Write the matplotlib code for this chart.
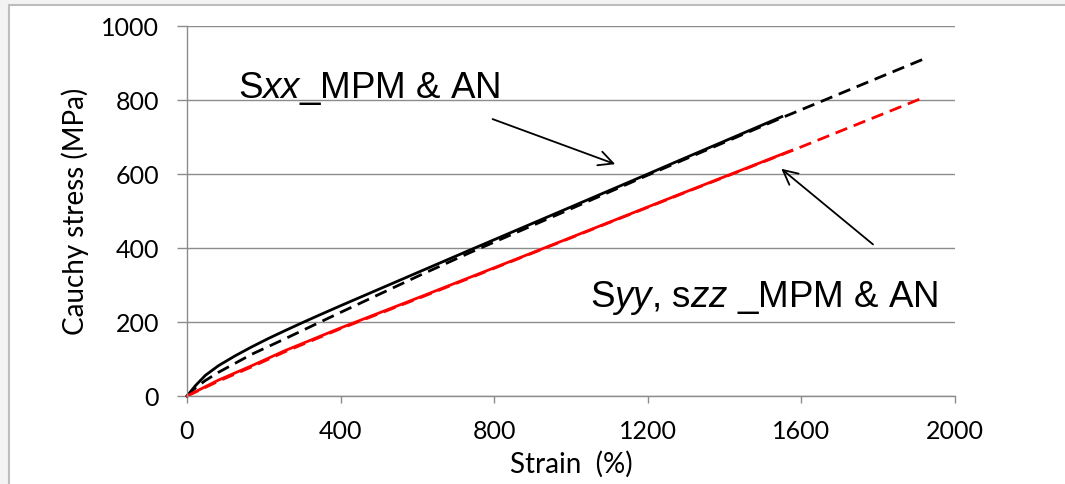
import matplotlib
matplotlib.use('Agg')
from matplotlib import pyplot as plt
from matplotlib.patches import Rectangle

# Sxx from the MPM run (solid) and the analytical solution (dashed)
sxx_mpm_strain = [0, 22, 48, 82, 126, 169, 213, 256, 300, 343, 400, 608,
                  738, 1000, 1198, 1285, 1549]
sxx_mpm_stress = [0, 28, 56, 82, 109, 133, 156, 177, 198, 218, 244, 337,
                  395, 511, 599, 638, 755]
sxx_an_strain = [0, 22, 48, 82, 169, 256, 343, 400, 608, 738, 1000, 1198,
                 1549, 1926]
sxx_an_stress = [0, 22, 42, 64, 113, 155, 198, 226, 327, 388, 506, 596,
                 752, 914]

# Syy / Szz
syy_mpm_strain = [0, 82, 169, 256, 400, 608, 933, 1285, 1575]
syy_mpm_stress = [0, 43, 82, 123, 184, 268, 401, 546, 664]
syy_an_strain = [0, 82, 169, 256, 400, 608, 933, 1285, 1575, 1924]
syy_an_stress = [0, 40, 79, 120, 182, 266, 400, 545, 663, 809]

x_ticks = [0, 400, 800, 1200, 1600, 2000]
y_ticks = [0, 200, 400, 600, 800, 1000]

plt.rcParams['mathtext.fontset'] = 'custom'
plt.rcParams['mathtext.rm'] = 'Liberation Sans'
plt.rcParams['mathtext.it'] = 'Liberation Sans:italic'

fig = plt.figure(figsize=(10.65, 4.84), dpi=100)
fig.patch.set_facecolor('#f3f3f3')
fig.patches.append(Rectangle(
    (9 / 1065, -0.01), 1.1, 1 - 5 / 484 + 0.01,
    transform=fig.transFigure, facecolor='white', edgecolor='#bdbdbd',
    linewidth=1.5, zorder=-5))

ax = fig.add_axes([187 / 1065, 1 - 396 / 484, 768 / 1065, 370 / 484])
ax.set_facecolor('none')
ax.set_zorder(2)

grid = '#8c8c8c'
ax.set_xlim(0, 2000)
ax.set_ylim(0, 1000)
ax.set_xticks(x_ticks)
ax.set_yticks(y_ticks)
ax.yaxis.grid(True, color=grid, linewidth=1.0)
ax.set_axisbelow(True)
for side in ('top', 'right'):
    ax.spines[side].set_visible(False)
for side in ('left', 'bottom'):
    ax.spines[side].set_color(grid)
    ax.spines[side].set_linewidth(1.0)
ax.tick_params(axis='y', direction='out', length=7, color=grid, width=1.0,
               labelsize=18, pad=13)
ax.tick_params(axis='x', direction='out', length=5, color=grid, width=1.0,
               labelsize=18, pad=12)
for lab in ax.get_xticklabels() + ax.get_yticklabels():
    lab.set_family('Lato')

ax.set_xlabel('Strain  (%)', family='Lato', fontsize=20, labelpad=6)
ax.set_ylabel('Cauchy stress (MPa)', family='Lato', fontsize=20, labelpad=9)

dash = (0, (4.5, 2.5))
ax.plot(sxx_an_strain, sxx_an_stress, color='black', lw=2.0, linestyle=dash,
        clip_on=False)
ax.plot(syy_an_strain, syy_an_stress, color='#ff0000', lw=2.0, linestyle=dash,
        clip_on=False)
ax.plot(sxx_mpm_strain, sxx_mpm_stress, color='black', lw=2.0, clip_on=False)
ax.plot(syy_mpm_strain, syy_mpm_stress, color='#ff0000', lw=2.0,
        clip_on=False)

ax.annotate('', xy=(1122, 624), xytext=(789, 751),
            arrowprops=dict(arrowstyle='->', color='black', lw=1.3,
                            mutation_scale=26))
ax.annotate('', xy=(1542, 619), xytext=(1792, 405),
            arrowprops=dict(arrowstyle='->', color='black', lw=1.3,
                            mutation_scale=26))

ax.text(133, 805, r'S$\mathit{xx}$_MPM & AN', family='Liberation Sans',
        fontsize=26.5, va='baseline', ha='left')
ax.text(1049, 240, r'S$\mathit{yy}$, s$\mathit{zz}$ _MPM & AN',
        family='Liberation Sans', fontsize=26.5, va='baseline', ha='left')

plt.savefig('out.png', dpi=100, facecolor=fig.get_facecolor())
